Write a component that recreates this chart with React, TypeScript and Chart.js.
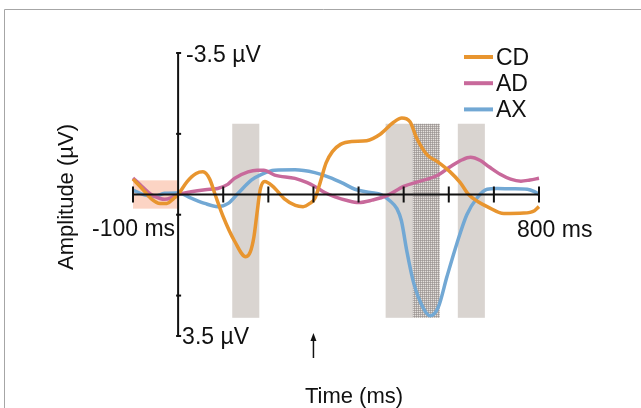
import React, { useEffect, useRef } from "react";
import { Chart, registerables } from "chart.js";

Chart.register(...registerables);

// ---- Data (time in ms, amplitude in µV; negative plotted upward) ----
const cdTimes = [-100, -80, -60, -40, -25, -10, 0, 20, 40, 55, 70, 82, 100, 125, 150, 160, 168, 175, 182, 192, 210, 235, 260, 277, 292, 303, 315, 328, 342, 360, 385, 418, 448, 477, 496, 514, 529, 552, 574, 603, 625, 644, 665, 685, 722, 766, 790, 800];
const cdValues = [-0.38, -0.15, 0.1, 0.22, 0.22, 0.1, 0, -0.32, -0.52, -0.56, -0.38, 0, 0.55, 1.15, 1.54, 1.42, 1.05, 0.45, -0.12, -0.32, -0.2, 0.1, 0.27, 0.3, 0.22, 0.1, -0.3, -0.78, -1.06, -1.24, -1.31, -1.33, -1.49, -1.78, -1.89, -1.8, -1.39, -0.98, -0.82, -0.56, -0.3, 0, 0.18, 0.3, 0.47, 0.46, 0.4, 0.3];

const adTimes = [-100, -80, -60, -40, -30, -15, 0, 29, 60, 88, 110, 125, 155, 175, 190, 214, 259, 285, 303, 325, 348, 375, 400, 430, 463, 500, 537, 574, 605, 630, 648, 670, 690, 714, 737, 760, 780, 800];
const adValues = [-0.41, -0.2, 0.0, 0.1, 0.12, 0.08, 0.0, -0.07, -0.12, -0.15, -0.25, -0.4, -0.56, -0.6, -0.6, -0.48, -0.4, -0.3, -0.2, -0.05, 0.06, 0.15, 0.2, 0.14, 0.03, -0.2, -0.33, -0.47, -0.7, -0.86, -0.92, -0.84, -0.68, -0.5, -0.38, -0.33, -0.36, -0.4];

const axTimes = [-100, -75, -52, -30, 0, 29, 59, 88, 111, 133, 163, 185, 214, 259, 303, 337, 365, 392, 426, 450, 470, 485, 495, 507, 522, 544, 559, 577, 596, 618, 640, 663, 685, 707, 740, 774, 790, 800];
const axValues = [-0.11, 0.01, 0.05, -0.03, -0.04, 0.09, 0.22, 0.3, 0.22, -0.03, -0.36, -0.5, -0.6, -0.61, -0.54, -0.42, -0.28, -0.13, -0.05, 0.0, 0.16, 0.35, 0.65, 1.4, 2.18, 2.82, 3.0, 2.78, 2.03, 1.21, 0.5, 0.08, -0.13, -0.15, -0.14, -0.13, -0.07, 0.0];

const seriesNames = ["CD", "AD", "AX"];
const seriesColors = ["#E8952F", "#C8699B", "#72A8D4"];

// shaded windows (ms) and vertical extent (µV)
const shadeStarts = [120, 460, 620];
const shadeEnds = [180, 520, 680];
const hatchStarts = [520];
const hatchEnds = [580];
const shadeTop = -1.75;
const shadeBottom = 3.05;
const baselineWindow = [-100, 0];
const baselineHalf = 0.35;

const xTicks = [-100, 0, 100, 200, 300, 400, 500, 600, 700, 800];
const yTicks = [-3.5, -1.5, 0.5, 2.5, 3.5];
const xMin = -100;
const xMax = 800;
const yMin = -3.5;
const yMax = 3.5;
const stimulusTime = 300;

const FONT = "'Liberation Sans', Arial, sans-serif";

const decor = {
  id: "decor",
  beforeDraw(chart: any) {
    const ctx = chart.ctx;
    ctx.save();
    ctx.fillStyle = "#ffffff";
    ctx.fillRect(0, 0, chart.width, chart.height);
    ctx.strokeStyle = "#a6a6a6";
    ctx.lineWidth = 1;
    ctx.beginPath();
    ctx.moveTo(4.5, chart.height + 2);
    ctx.lineTo(4.5, 9.5);
    ctx.lineTo(chart.width + 2, 9.5);
    ctx.stroke();
    ctx.restore();
  },
  beforeDatasetsDraw(chart: any) {
    const ctx = chart.ctx;
    const xs = chart.scales.x;
    const ys = chart.scales.y;
    ctx.save();
    // baseline window
    ctx.fillStyle = "#FCD4C4";
    const bx0 = xs.getPixelForValue(baselineWindow[0]);
    const bx1 = xs.getPixelForValue(baselineWindow[1]);
    const by0 = ys.getPixelForValue(-baselineHalf);
    const by1 = ys.getPixelForValue(baselineHalf);
    ctx.fillRect(bx0, by0, bx1 - bx0, by1 - by0);
    // gray windows
    ctx.fillStyle = "#D9D4D0";
    const t = ys.getPixelForValue(shadeTop);
    const b = ys.getPixelForValue(shadeBottom);
    shadeStarts.forEach((s, i) => {
      const x0 = xs.getPixelForValue(s);
      const x1 = xs.getPixelForValue(shadeEnds[i]);
      ctx.fillRect(x0, t, x1 - x0, b - t);
    });
    // hatched window
    const tile = document.createElement("canvas");
    tile.width = 2;
    tile.height = 2;
    const tc = tile.getContext("2d")!;
    tc.fillStyle = "#E4E0DC";
    tc.fillRect(0, 0, 2, 2);
    tc.fillStyle = "#B3ADAA";
    tc.fillRect(0, 0, 2, 1);
    tc.fillRect(0, 0, 1, 2);
    tc.fillStyle = "#9E9896";
    tc.fillRect(0, 0, 1, 1);
    const pat = ctx.createPattern(tile, "repeat");
    ctx.fillStyle = pat;
    hatchStarts.forEach((s, i) => {
      const x0 = xs.getPixelForValue(s);
      const x1 = xs.getPixelForValue(hatchEnds[i]);
      ctx.fillRect(x0, t, x1 - x0, b - t);
    });
    ctx.restore();
  },
  afterDatasetsDraw(chart: any) {
    const ctx = chart.ctx;
    const xs = chart.scales.x;
    const ys = chart.scales.y;
    const x0 = xs.getPixelForValue(0);
    const y0 = ys.getPixelForValue(0);
    ctx.save();
    ctx.strokeStyle = "#111111";
    ctx.lineWidth = 2;
    ctx.lineCap = "butt";
    // x axis
    ctx.beginPath();
    ctx.moveTo(xs.getPixelForValue(xMin), y0);
    ctx.lineTo(xs.getPixelForValue(xMax), y0);
    ctx.stroke();
    xTicks.forEach((v) => {
      if (v === 0) return;
      const px = xs.getPixelForValue(v);
      ctx.beginPath();
      ctx.moveTo(px, y0 - 8);
      ctx.lineTo(px, y0 + 8);
      ctx.stroke();
    });
    // y axis
    ctx.beginPath();
    ctx.moveTo(x0, ys.getPixelForValue(yMin));
    ctx.lineTo(x0, ys.getPixelForValue(yMax));
    ctx.stroke();
    yTicks.forEach((v) => {
      const py = ys.getPixelForValue(v);
      ctx.beginPath();
      ctx.moveTo(x0 - 2, py);
      ctx.lineTo(x0 + 3, py);
      ctx.stroke();
    });
    // tick labels
    ctx.fillStyle = "#111111";
    ctx.font = `23px ${FONT}`;
    ctx.textBaseline = "alphabetic";
    ctx.textAlign = "left";
    ctx.fillText(`${yMin} µV`, x0 + 8, ys.getPixelForValue(yMin) + 8.5);
    ctx.fillText(`${yMax} µV`, x0 + 4, ys.getPixelForValue(yMax) + 8);
    ctx.textAlign = "right";
    ctx.fillText(`${xMin} ms`, x0 - 3, y0 + 41.5);
    ctx.textAlign = "left";
    ctx.fillText(`${xMax} ms`, xs.getPixelForValue(xMax) - 22, y0 + 42);
    // axis titles
    ctx.font = `22px ${FONT}`;
    ctx.textAlign = "center";
    ctx.fillText("Time (ms)", 354, 403);
    ctx.save();
    ctx.translate(73, 197);
    ctx.rotate(-Math.PI / 2);
    ctx.fillText("Amplitude (µV)", 0, 0);
    ctx.restore();
    // stimulus arrow
    const ax = xs.getPixelForValue(stimulusTime);
    ctx.lineWidth = 1.5;
    ctx.beginPath();
    ctx.moveTo(ax, 358);
    ctx.lineTo(ax, 337);
    ctx.stroke();
    ctx.beginPath();
    ctx.moveTo(ax, 333);
    ctx.lineTo(ax - 3, 341);
    ctx.lineTo(ax + 3, 341);
    ctx.closePath();
    ctx.fill();
    // legend
    ctx.font = `23px ${FONT}`;
    ctx.textAlign = "left";
    ctx.lineWidth = 4;
    seriesNames.forEach((n, i) => {
      const ly = 57 + i * 26.2;
      ctx.strokeStyle = seriesColors[i];
      ctx.beginPath();
      ctx.moveTo(464, ly);
      ctx.lineTo(493, ly);
      ctx.stroke();
      ctx.fillStyle = "#111111";
      ctx.fillText(n, 496, ly + 8);
    });
    ctx.restore();
  },
};

export default function App() {
  const ref = useRef<HTMLCanvasElement>(null);
  useEffect(() => {
    if (!ref.current) return;
    const mk = (t: number[], v: number[]) => t.map((x, i) => ({ x, y: v[i] }));
    const chart = new Chart(ref.current, {
      type: "line",
      data: {
        datasets: [
          { label: seriesNames[0], data: mk(cdTimes, cdValues), borderColor: seriesColors[0] },
          { label: seriesNames[1], data: mk(adTimes, adValues), borderColor: seriesColors[1] },
          { label: seriesNames[2], data: mk(axTimes, axValues), borderColor: seriesColors[2] },
        ].map((d) => ({
          ...d,
          borderWidth: 3.5,
          pointRadius: 0,
          fill: false,
          cubicInterpolationMode: "monotone" as const,
          clip: false as any,
        })),
      },
      options: {
        animation: false,
        responsive: false,
        devicePixelRatio: 1,
        layout: { padding: { left: 133, right: 102, top: 53, bottom: 72 } },
        plugins: { legend: { display: false }, tooltip: { enabled: false }, title: { display: false } },
        scales: {
          x: { type: "linear", min: xMin, max: xMax, display: false },
          y: { type: "linear", min: yMin, max: yMax, reverse: true, display: false },
        },
      },
      plugins: [decor],
    });
    return () => chart.destroy();
  }, []);
  return (
    <div style={{ position: "absolute", left: 0, top: 0, width: 641, height: 408 }}>
      <canvas ref={ref} width={641} height={408} style={{ display: "block" }} />
    </div>
  );
}
